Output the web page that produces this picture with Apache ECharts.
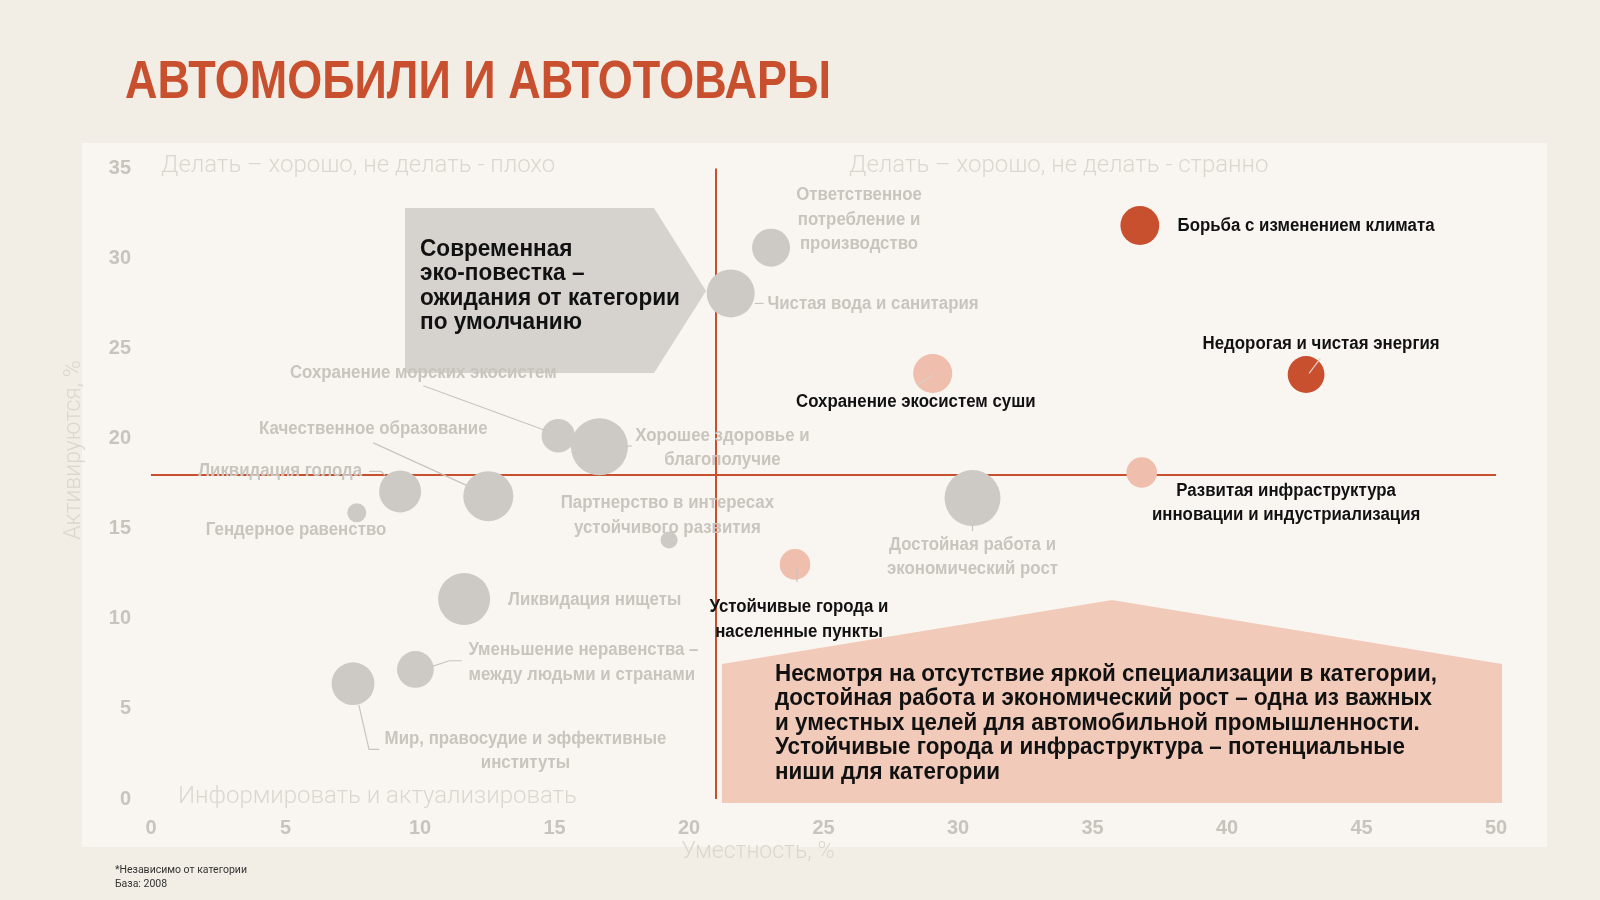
<!DOCTYPE html>
<html><head><meta charset="utf-8">
<script src="https://cdn.jsdelivr.net/npm/echarts@6/dist/echarts.min.js"></script>
<style>html,body{margin:0;padding:0;background:#f2eee5}#c{width:1600px;height:900px}</style>
</head><body><div id="c"></div><script>
// ---------- DATA ----------
const goals = ['Ответственное потребление и производство','Чистая вода и санитария','Сохранение морских экосистем','Хорошее здоровье и благополучие','Ликвидация голода','Качественное образование','Гендерное равенство','Партнерство в интересах устойчивого развития','Достойная работа и экономический рост','Ликвидация нищеты','Уменьшение неравенства','Мир, правосудие и эффективные институты','Сохранение экосистем суши','Развитая инфраструктура, инновации и индустриализация','Устойчивые города и населенные пункты','Борьба с изменением климата','Недорогая и чистая энергия'];
const relevance  = [23.05, 21.55, 15.14, 16.67, 9.26, 12.54, 7.65, 19.26, 30.54, 11.64, 9.83, 7.51, 29.06, 36.83, 23.94, 36.76, 42.94];
const activation = [30.6, 28.06, 20.16, 19.55, 17.07, 16.81, 15.89, 14.37, 16.7, 11.10, 7.19, 6.4, 23.62, 18.12, 13.02, 31.83, 23.56];
const weight     = [19, 24, 16.7, 28.5, 21, 25, 9.5, 8.5, 28, 26, 18.4, 21.4, 19.5, 15.3, 15.3, 19.4, 18.4];
const tier       = ['base','base','base','base','base','base','base','base','base','base','base','base','niche','niche','niche','key','key'];
const labelTexts = ['Ответственное\nпотребление и\nпроизводство','Чистая вода и санитария','Сохранение морских экосистем','Хорошее здоровье и\nблагополучие','Ликвидация голода','Качественное образование','Гендерное равенство','Партнерство в интересах\nустойчивого развития','Достойная работа и\nэкономический рост','Ликвидация нищеты','Уменьшение неравенства –\nмежду людьми и странами','Мир, правосудие и эффективные\nинституты','Сохранение экосистем суши','Развитая инфраструктура\nинновации и индустриализация','Устойчивые города и\nнаселенные пункты','Борьба с изменением климата','Недорогая и чистая энергия'];
const xTicks = [0, 5, 10, 15, 20, 25, 30, 35, 40, 45, 50];
const yTicks = [0, 5, 10, 15, 20, 25, 30, 35];
const relevanceThreshold = 21;
const activationThreshold = 18;

// ---------- STYLE / LAYOUT ----------
const SANS = '"Liberation Sans",Arial,sans-serif';
const LIGHT = 'Roboto,"Open Sans",sans-serif';
const tierColor = {base:'#cdc9c4', niche:'#efbead', key:'#c8502f'};
const labelLayout = [
  [88,-28,'center'],[36.7,11,'left'],[-135,-63,'center'],[123,1.3,'center'],[-38,-20,'right'],
  [-115,-67.4,'center'],[-60.7,17,'center'],[-1.7,-24.7,'center'],[0,59,'center'],[44,1,'left'],
  [53,-7,'left'],[172.5,67.4,'center'],[-136.7,28.7,'left'],[144.4,30.6,'center'],[4,55,'center'],
  [37.7,1,'left'],[15,-30.5,'center']
];
const leaders = {
  1:[[24,10],[33,10]], 2:[[-135,-50],[-12,-5]], 3:[[27.4,-0.7],[32.4,-0.7]],
  4:[[-31,-20],[-19,-20],[-15,-16]], 5:[[-115,-53.3],[-22.3,-11]], 8:[[0,27],[0,33]],
  10:[[17.7,-3.4],[33.9,-8.7],[46.3,-8.7]], 11:[[5.8,21.3],[16,65.6],[26.2,65.6]],
  12:[[-15.7,11.7],[0.3,1.7]], 14:[[2,2.7],[2,17.7]], 16:[[3,-1.2],[14.3,-16.2]]
};

// horizontal condensing to imitate a condensed typeface
const mctx = document.createElement('canvas').getContext('2d');
function fitScale(str, font, target){ mctx.font = font; return target / mctx.measureText(str).width; }
const F_LABEL = 'bold 18px ' + SANS;
const F_TITLE = 'bold 54px ' + SANS;
const F_BOX1 = 'bold 24px ' + SANS;
const F_BOX2 = 'bold 23px ' + SANS;
const sLabel = fitScale('Борьба с изменением климата', F_LABEL, 257);
const sTitle = fitScale('АВТОМОБИЛИ И АВТОТОВАРЫ', F_TITLE, 706);
const sBox1 = fitScale('ожидания от категории', F_BOX1, 260);
const sBox2 = fitScale('Несмотря на отсутствие яркой специализации в категории,', F_BOX2, 662);

const chart = echarts.init(document.getElementById('c'), null, {renderer:'canvas'});

function seriesFor(t){
  const d = [];
  goals.forEach((g,i)=>{ if(tier[i]===t) d.push({name:g, value:[relevance[i], activation[i], weight[i]]}); });
  return {type:'scatter', z:5, data:d, symbolSize:v=>v[2]*2, itemStyle:{color:tierColor[t], opacity:1}, silent:true};
}

const axisLbl = {color:'#c8c3bd', fontFamily:SANS, fontWeight:'bold', fontSize:20};
chart.setOption({
  backgroundColor:'#f2eee5',
  animation:false,
  grid:{left:151, right:104, top:168.4, bottom:101},
  xAxis:{type:'value', min:xTicks[0], max:xTicks[xTicks.length-1], interval:xTicks[1]-xTicks[0],
    splitLine:{show:false}, axisLine:{show:false}, axisTick:{show:false},
    axisLabel:Object.assign({margin:19}, axisLbl)},
  yAxis:{type:'value', min:yTicks[0], max:yTicks[yTicks.length-1], interval:yTicks[1]-yTicks[0],
    splitLine:{show:false}, axisLine:{show:false}, axisTick:{show:false},
    axisLabel:Object.assign({margin:20}, axisLbl)},
  series:[
    {type:'scatter', data:[], z:3, silent:true,
      markLine:{silent:true, symbol:'none', label:{show:false},
        lineStyle:{color:'#c8502f', width:2, type:'solid'},
        data:[{xAxis:relevanceThreshold},{yAxis:activationThreshold}]}},
    seriesFor('base'), seriesFor('niche'), seriesFor('key')
  ]
});

// ---------- ANNOTATIONS ----------
const g = [];
g.push({type:'rect', z:-10, shape:{x:82, y:143, width:1465, height:704}, style:{fill:'#f9f6f2'}});
g.push({type:'text', z:20, x:125, y:83, scaleX:sTitle, style:{text:'АВТОМОБИЛИ И АВТОТОВАРЫ', font:F_TITLE, fill:'#c8502f', align:'left', verticalAlign:'middle'}});
const quad = {fill:'#dcd6cf', font:'300 24px '+LIGHT, verticalAlign:'middle', align:'left'};
g.push({type:'text', z:1, x:161, y:166, style:Object.assign({text:'Делать – хорошо, не делать - плохо'}, quad)});
g.push({type:'text', z:1, x:849, y:166, style:Object.assign({text:'Делать – хорошо, не делать - странно'}, quad)});
g.push({type:'text', z:1, x:178, y:797, style:Object.assign({text:'Информировать и актуализировать'}, quad, {font:'300 24px '+LIGHT})});
g.push({type:'text', z:1, x:758, y:852, style:{text:'Уместность, %', fill:'#dcd6cf', font:'300 23px '+LIGHT, align:'center', verticalAlign:'middle'}});
g.push({type:'text', z:1, x:74, y:450, rotation:Math.PI/2, style:{text:'Активируются, %', fill:'#dcd6cf', font:'300 23px '+LIGHT, align:'center', verticalAlign:'middle'}});
g.push({type:'text', z:1, x:115, y:877, style:{text:'*Независимо от категории\nБаза: 2008', fill:'#333', font:'10.5px '+LIGHT, lineHeight:14, align:'left', verticalAlign:'middle'}});

// callout boxes
g.push({type:'polygon', z:2, shape:{points:[[405,208],[654,208],[706,291],[654,373],[405,373]]}, style:{fill:'#d6d3cf'}});
g.push({type:'text', z:20, x:420, y:286, scaleX:sBox1, style:{text:'Современная\nэко-повестка –\nожидания от категории\nпо умолчанию', fill:'#111', font:F_BOX1, lineHeight:24.5, align:'left', verticalAlign:'middle'}});
g.push({type:'polygon', z:2, shape:{points:[[722,664],[1112,600],[1502,664],[1502,803],[722,803]]}, style:{fill:'#f2cab9'}});
g.push({type:'text', z:20, x:775, y:723.5, scaleX:sBox2, style:{text:'Несмотря на отсутствие яркой специализации в категории,\nдостойная работа и экономический рост – одна из важных\nи уместных целей для автомобильной промышленности.\nУстойчивые города и инфраструктура – потенциальные\nниши для категории', fill:'#111', font:F_BOX2, lineHeight:24.5, align:'left', verticalAlign:'middle'}});

goals.forEach((name,i)=>{
  const p = chart.convertToPixel({gridIndex:0}, [relevance[i], activation[i]]);
  const L = labelLayout[i];
  const dark = tier[i] !== 'base';
  g.push({type:'text', z:20, x:p[0]+L[0], y:p[1]+L[1], scaleX:sLabel, style:{text:labelTexts[i], fill: dark ? '#111' : '#c9c4bd', font:F_LABEL, lineHeight:24.5, align:L[2], verticalAlign:'middle'}});
  if (leaders[i]) {
    g.push({type:'polyline', z:15, shape:{points:leaders[i].map(q=>[p[0]+q[0], p[1]+q[1]])}, style:{stroke: i===12||i===16 ? '#d8d2cc' : '#c9c4bd', lineWidth:1.2, fill:null}});
  }
});
chart.setOption({graphic:{elements:g}});
</script></body></html>
